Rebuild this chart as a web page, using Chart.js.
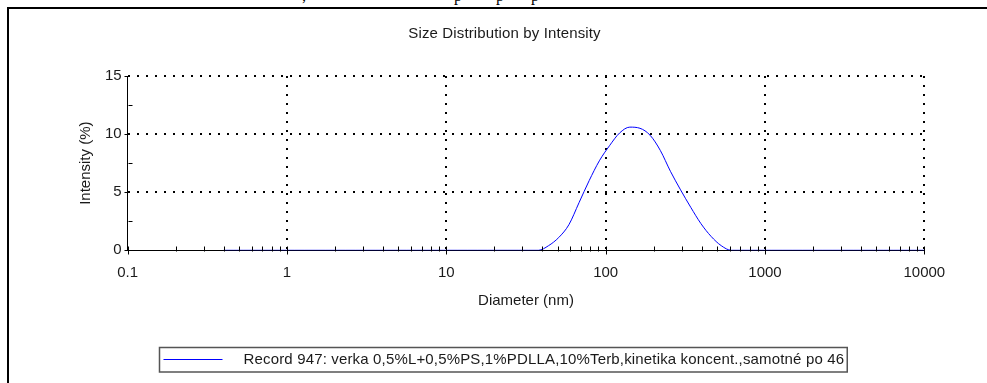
<!DOCTYPE html>
<html>
<head>
<meta charset="utf-8">
<script src="https://cdn.jsdelivr.net/npm/chart.js@4.4.1/dist/chart.umd.min.js"></script>
<style>
  html, body { margin: 0; padding: 0; background: #fff; overflow: hidden; width: 987px; height: 383px; }
  #frame { position: absolute; left: 7px; top: 7px; width: 1000px; height: 400px;
           border-left: 2px solid #000; border-top: 2px solid #000; }
  #wrap { position: absolute; left: 21px; top: 0; width: 966px; height: 383px; }
  .desc { position: absolute; top: -12px; font-family: "Liberation Serif", serif; font-size: 16px;
          line-height: 16px; color: #000; }
</style>
</head>
<body>
<div class="desc" style="left:302px">,</div>
<div class="desc" style="left:454px">p</div>
<div class="desc" style="left:496px">p</div>
<div class="desc" style="left:531px">p</div>
<div id="frame"></div>
<div id="wrap"><canvas id="c" width="966" height="383"></canvas></div>
<script>
// Size classes (nm) of the distribution
const diameters = [
  0.4, 0.4632, 0.5365, 0.6213, 0.7195, 0.8332, 0.9649, 1.117, 1.294, 1.499,
  1.736, 2.010, 2.328, 2.696, 3.122, 3.615, 4.187, 4.849, 5.615, 6.503,
  7.531, 8.721, 10.10, 11.70, 13.54, 15.69, 18.17, 21.04, 24.36, 28.21,
  32.67, 37.84, 43.82, 50.75, 58.77, 68.06, 78.82, 91.28, 105.7, 122.4,
  141.8, 164.2, 190.1, 220.2, 255.0, 295.3, 342.0, 396.1, 458.7, 531.2,
  615.1, 712.4, 825.0, 955.4, 1106, 1281, 1484, 1718, 1990, 2305,
  2669, 3091, 3580, 4145, 4801, 5560, 6439, 7456, 8635, 10000
];
// Intensity (%) in each size class
const intensity = [
  0, 0, 0, 0, 0, 0, 0, 0, 0, 0,
  0, 0, 0, 0, 0, 0, 0, 0, 0, 0,
  0, 0, 0, 0, 0, 0, 0, 0, 0, 0,
  0, 0, 0.4, 1.1, 2.2, 4.1, 6.0, 7.7, 9.0, 10.1,
  10.6, 10.5, 9.9, 8.6, 6.8, 5.2, 3.7, 2.3, 1.2, 0.4,
  0, 0, 0, 0, 0, 0, 0, 0, 0, 0,
  0, 0, 0, 0, 0, 0, 0, 0, 0, 0
];
const chartTitle = 'Size Distribution by Intensity';
const seriesLabel = 'Record 947: verka 0,5%L+0,5%PS,1%PDLLA,10%Terb,kinetika koncent.,samotné po 46';
const xTickValues = [0.1, 1, 10, 100, 1000, 10000];
const yTickValues = [0, 5, 10, 15];

const FONT = '"Liberation Sans", Arial, sans-serif';
const TEXT = '#1a1a1a';
const LINE = '#0000ff';
Chart.defaults.font.family = FONT;
Chart.defaults.font.size = 15;
Chart.defaults.color = TEXT;

const isPow10 = v => v > 0 && Math.abs(Math.log10(v) - Math.round(Math.log10(v))) < 1e-9;

// Title centred on the whole panel rather than on the plot
const panelTitle = {
  id: 'panelTitle',
  afterDraw(chart) {
    const ctx = chart.ctx;
    ctx.save();
    ctx.font = '15px ' + FONT;
    ctx.letterSpacing = '0.13px';
    ctx.fillStyle = TEXT;
    ctx.textAlign = 'center';
    ctx.textBaseline = 'middle';
    ctx.fillText(chartTitle, chart.width / 2 + 0.5, 34);
    ctx.restore();
  }
};

// Short inward tick marks on both axes (minor ones between the labelled values)
const axisTicks = {
  id: 'axisTicks',
  afterDatasetsDraw(chart) {
    const {ctx, chartArea: a, scales: {x, y}} = chart;
    ctx.save();
    ctx.strokeStyle = '#000';
    ctx.lineWidth = 1;
    ctx.beginPath();
    const yb = Math.round(a.bottom) + 0.5;
    for (let i = 0; i < xTickValues.length; i++) {
      const d = xTickValues[i];
      const px = Math.round(x.getPixelForValue(d)) + 0.5;
      ctx.moveTo(px, yb - 4); ctx.lineTo(px, yb + 4);
      if (i < xTickValues.length - 1) {
        for (let k = 2; k <= 9; k++) {
          const mx = Math.round(x.getPixelForValue(d * k)) + 0.5;
          ctx.moveTo(mx, yb - 4); ctx.lineTo(mx, yb + 1);
        }
      }
    }
    const xl = Math.round(a.left) + 0.5;
    for (let i = 0; i < yTickValues.length; i++) {
      const v = yTickValues[i];
      const py = Math.round(y.getPixelForValue(v)) + 0.5;
      ctx.moveTo(xl - 4, py); ctx.lineTo(xl + 1, py);
      if (i < yTickValues.length - 1) {
        const my = Math.round(y.getPixelForValue((v + yTickValues[i + 1]) / 2)) + 0.5;
        ctx.moveTo(xl, my); ctx.lineTo(xl + 4, my);
      }
    }
    ctx.stroke();
    ctx.restore();
  }
};

// Boxed legend under the plot
const boxedLegend = {
  id: 'boxedLegend',
  afterDraw(chart) {
    const ctx = chart.ctx;
    const ds = chart.data.datasets[0];
    ctx.save();
    ctx.font = '15px ' + FONT;
    ctx.letterSpacing = '0.16px';
    const tw = ctx.measureText(ds.label).width;
    const sample = 59, gap = 21, padL = 4, padR = 3;
    const w = padL + sample + gap + tw + padR;
    const x0 = Math.round(chart.width / 2 - 1.5 - w / 2) + 0.5;
    const y0 = 347.5, h = 24.5;
    ctx.strokeStyle = '#555';
    ctx.lineWidth = 1.5;
    ctx.strokeRect(x0, y0, w, h);
    ctx.strokeStyle = LINE;
    ctx.lineWidth = 1;
    ctx.beginPath();
    ctx.moveTo(x0 + padL, 359.5);
    ctx.lineTo(x0 + padL + sample, 359.5);
    ctx.stroke();
    ctx.fillStyle = TEXT;
    ctx.textBaseline = 'middle';
    ctx.textAlign = 'left';
    ctx.fillText(ds.label, x0 + padL + sample + gap, 360);
    ctx.restore();
  }
};

const points = diameters.map((d, i) => ({x: d, y: intensity[i]}));

new Chart(document.getElementById('c'), {
  type: 'line',
  data: {
    datasets: [{
      label: seriesLabel,
      data: points,
      borderColor: LINE,
      borderWidth: 1,
      pointRadius: 0,
      cubicInterpolationMode: 'monotone',
      fill: false
    }]
  },
  options: {
    responsive: false,
    animation: false,
    devicePixelRatio: 1,
    layout: { padding: { left: 0, right: 62.7, top: 76, bottom: 73.2 } },
    plugins: {
      legend: { display: false },
      tooltip: { enabled: false },
      title: { display: false }
    },
    scales: {
      x: {
        type: 'logarithmic',
        min: 0.1,
        max: 10000,
        afterBuildTicks: s => { s.ticks = xTickValues.map(v => ({value: v, major: true})); },
        afterFit: s => { s.height = 59.5; },
        ticks: {
          autoSkip: false, maxRotation: 0, minRotation: 0, padding: 13.5, color: TEXT,
          callback: v => String(Number(v.toPrecision(6)))
        },
        grid: {
          drawTicks: false,
          lineWidth: 2,
          color: c => (c.tick && c.tick.value > 0.1 + 1e-9) ? '#000' : 'rgba(0,0,0,0)'
        },
        border: { display: true, color: '#000', width: 1, dash: [2, 7] },
        title: {
          display: true, text: 'Diameter (nm)', color: TEXT,
          font: { size: 15, family: FONT }, padding: { top: 0, bottom: 0 }
        }
      },
      y: {
        type: 'linear',
        min: 0,
        max: 15,
        afterBuildTicks: s => { s.ticks = yTickValues.map(v => ({value: v})); },
        afterFit: s => { s.width = 106.7; },
        ticks: { padding: 6, color: TEXT },
        grid: {
          drawTicks: false,
          lineWidth: 2,
          color: c => (c.tick && c.tick.value > 0) ? '#000' : 'rgba(0,0,0,0)'
        },
        border: { display: true, color: '#000', width: 1, dash: [2, 7] },
        title: {
          display: true, text: 'Intensity (%)', color: TEXT,
          font: { size: 15, family: FONT }, padding: { top: 56, bottom: 0 }
        }
      }
    }
  },
  plugins: [panelTitle, axisTicks, boxedLegend]
});
</script>
</body>
</html>
